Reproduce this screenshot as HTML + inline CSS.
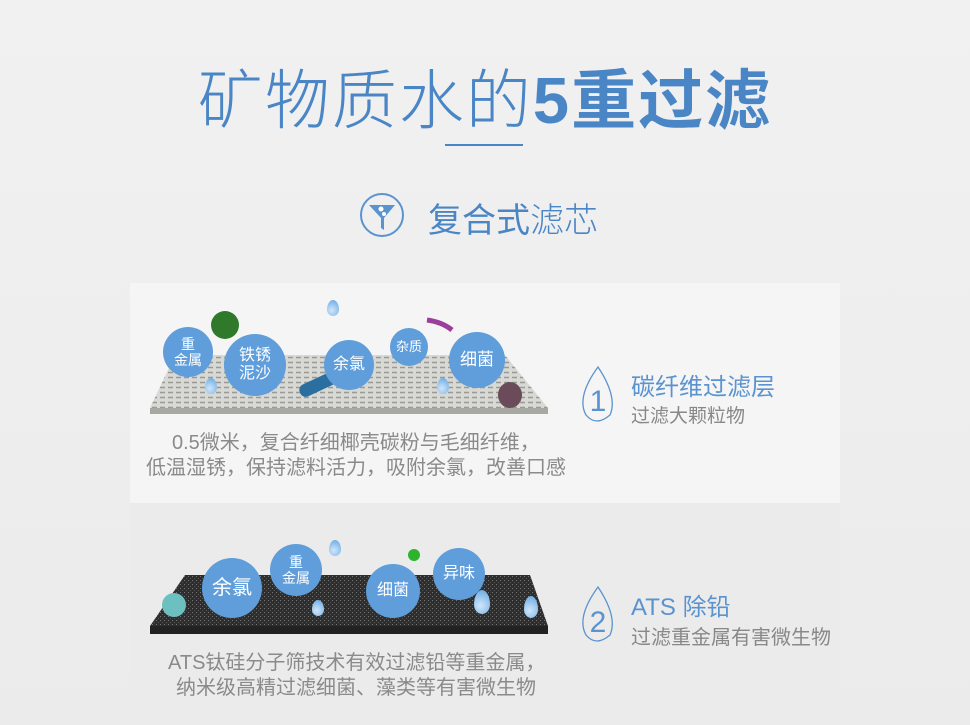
<!DOCTYPE html>
<html><head><meta charset="utf-8"><style>
*{margin:0;padding:0;box-sizing:border-box}
body{width:970px;height:725px;overflow:hidden;background:linear-gradient(180deg,#f1f1f1,#ebebeb);font-family:"Liberation Sans","Noto Sans CJK SC",sans-serif;position:relative}
.a{position:absolute;white-space:nowrap}
.c{position:absolute;border-radius:50%;background:#5f9ddb;color:#fff;display:flex;align-items:center;justify-content:center;text-align:center;line-height:1.15}
.t{position:absolute;color:#8a8a8a;font-size:20px;white-space:nowrap}
.drop{position:absolute;width:12px;height:16px;background:radial-gradient(circle at 40% 65%,#cfe6fb,#5ea3e0);border-radius:50% 50% 50% 50%/60% 60% 40% 40%}
</style></head><body>
<div class="a" style="left:0;top:48px;width:970px;text-align:center;font-size:65px;color:#4a86c5;font-weight:300;letter-spacing:2px">矿物质水的<b style="font-weight:700">5重过滤</b></div>
<div class="a" style="left:445px;top:144px;width:78px;height:2px;background:#4a86c5"></div>
<svg class="a" style="left:359px;top:192px" width="46" height="46"><circle cx="23" cy="23" r="21" fill="none" stroke="#5a93cf" stroke-width="2"/><path d="M10 13h26l-11 13v12l-3 -2v-10z" fill="#5a93cf"/><circle cx="22" cy="17" r="2.5" fill="#fff"/><circle cx="25" cy="22" r="2" fill="#fff"/></svg>
<div class="a" style="left:428px;top:193px;font-size:34px;color:#4a86c5">复合式<span style="font-weight:300">滤芯</span></div>

<div class="a" style="left:130px;top:283px;width:710px;height:220px;background:#f5f5f5"></div>
<div class="a" style="left:130px;top:503px;width:710px;height:222px;background:#ebebeb"></div>

<svg class="a" style="left:0;top:0" width="970" height="725">
<defs><pattern id="m" width="8" height="5" patternUnits="userSpaceOnUse"><rect width="8" height="5" fill="#d8d8d4"/><path d="M0 2.5h5" stroke="#9a9a94" stroke-width="1.5"/></pattern>
<pattern id="k" width="4" height="4" patternUnits="userSpaceOnUse"><rect width="4" height="4" fill="#2e2e2e"/><rect width="1" height="1" fill="#777"/><rect x="2" y="2" width="1" height="1" fill="#555"/></pattern></defs>
<polygon points="175,355 505,355 548,408 150,408" fill="url(#m)"/>
<rect x="150" y="408" width="398" height="6" fill="#a8a8a2"/>
<polygon points="185,575 530,575 548,626 150,626" fill="url(#k)"/>
<rect x="150" y="626" width="398" height="8" fill="#222"/>
<circle cx="225" cy="325" r="14" fill="#2f7a2a"/>
<ellipse cx="510" cy="395" rx="12" ry="13" fill="#6b4a5a"/>
<rect x="298" y="378" width="40" height="13" rx="6" fill="#2a6fa0" transform="rotate(-25 318 384)"/>
<path d="M427 320 q15 2 25 10" stroke="#9a3f9a" stroke-width="5" fill="none"/>
<circle cx="174" cy="605" r="12" fill="#6cc1c0"/>
<circle cx="414" cy="555" r="6" fill="#2fb32f"/>
<g fill="none" stroke="#5a93cf" stroke-width="1.3"><path d="M598 367 q-22 30 -12 48 q10 12 24 0 q8 -18 -12 -48z"/><path d="M598 587 q-22 30 -12 48 q10 12 24 0 q8 -18 -12 -48z"/></g>
<text x="598" y="411" font-size="30" fill="#5a93cf" text-anchor="middle" font-family="Liberation Sans" font-weight="300">1</text>
<text x="598" y="632" font-size="30" fill="#5a93cf" text-anchor="middle" font-family="Liberation Sans" font-weight="300">2</text>
</svg>
<div class="drop" style="left:327px;top:300px"></div>
<div class="drop" style="left:205px;top:378px"></div>
<div class="drop" style="left:437px;top:378px"></div>
<div class="drop" style="left:329px;top:540px"></div>
<div class="drop" style="left:312px;top:600px"></div>
<div class="drop" style="left:474px;top:590px;width:16px;height:24px"></div>
<div class="drop" style="left:524px;top:596px;width:14px;height:22px"></div>

<div class="c" style="left:163px;top:327px;width:50px;height:50px;font-size:14px">重<br>金属</div>
<div class="c" style="left:224px;top:334px;width:62px;height:62px;font-size:16px">铁锈<br>泥沙</div>
<div class="c" style="left:324px;top:340px;width:50px;height:50px;font-size:16px">余氯</div>
<div class="c" style="left:390px;top:328px;width:38px;height:38px;font-size:13px">杂质</div>
<div class="c" style="left:449px;top:332px;width:56px;height:56px;font-size:17px">细菌</div>

<div class="c" style="left:202px;top:558px;width:60px;height:60px;font-size:20px">余氯</div>
<div class="c" style="left:270px;top:544px;width:52px;height:52px;font-size:14px">重<br>金属</div>
<div class="c" style="left:366px;top:564px;width:54px;height:54px;font-size:16px">细菌</div>
<div class="c" style="left:433px;top:548px;width:52px;height:52px;font-size:16px">异味</div>

<div class="t" style="left:172px;top:426px">0.5微米，复合纤细椰壳碳粉与毛细纤维，</div>
<div class="t" style="left:146px;top:451px">低温湿锈，保持滤料活力，吸附余氯，改善口感</div>
<div class="t" style="left:168px;top:646px">ATS钛硅分子筛技术有效过滤铅等重金属，</div>
<div class="t" style="left:176px;top:671px">纳米级高精过滤细菌、藻类等有害微生物</div>

<div class="a" style="left:631px;top:367px;font-size:24px;color:#5a93cf">碳纤维过滤层</div>
<div class="a" style="left:631px;top:401px;font-size:19px;color:#888">过滤大颗粒物</div>
<div class="a" style="left:631px;top:587px;font-size:24px;color:#5a93cf">ATS 除铅</div>
<div class="a" style="left:631px;top:621px;font-size:20px;color:#888">过滤重金属有害微生物</div>
</body></html>
